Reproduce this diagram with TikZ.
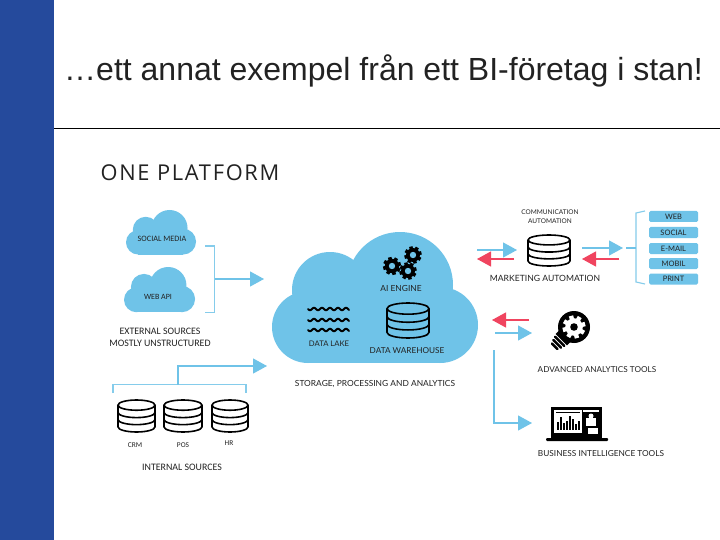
\documentclass[tikz,border=0pt]{standalone}
\usepackage{fontspec}
\setmainfont{Lato}
\newfontfamily\titlefont{Liberation Sans}
\newfontfamily\calfont{Carlito}
\newfontfamily\headfont[LetterSpace=8]{Open Sans}
\usetikzlibrary{arrows.meta}
\definecolor{sidebar}{HTML}{254A9C}
\definecolor{sky}{HTML}{6FC3E8}
\definecolor{rosy}{HTML}{F0445F}
\definecolor{ink}{HTML}{222222}
\newcommand\cloudshape[3]{%
  \begin{scope}[shift={(#1,#2)},scale=#3]
    \fill[sky] (36,95) circle[radius=36];
    \fill[sky] (58,58) circle[radius=38];
    \fill[sky] (128,53) circle[radius=53];
    \fill[sky] (168,93) circle[radius=38];
    \fill[sky] (36,70) rectangle (168,131);
  \end{scope}}
\newcommand\dbicon[5]{% name x y w h
  \begin{scope}[shift={(#2,#3)},x=#4pt,y=#5pt]
    \coordinate (#1) at (.5,.5);
    \draw[black,line width=1.6pt,line join=round]
      (0,-.16) arc[start angle=180,end angle=0,x radius=.5,y radius=.16]
      -- (1,-.84) arc[start angle=0,end angle=-180,x radius=.5,y radius=.16] -- cycle
      (0,-.16) arc[start angle=180,end angle=360,x radius=.5,y radius=.16]
      (0,-.39) arc[start angle=180,end angle=360,x radius=.5,y radius=.16]
      (0,-.61) arc[start angle=180,end angle=360,x radius=.5,y radius=.16];
  \end{scope}}
\newcommand\gearicon[5]{% x y radius inner fill
  \begin{scope}[shift={(#1,#2)}]
    \foreach \a in {0,45,...,315}{
      \fill[black,rotate=\a+15] (-#3*.2,#3*.65) rectangle (#3*.2,#3);
    }
    \fill[black] (0,0) circle[radius=#3*.8];
    \fill[#5] (0,0) circle[radius=#4];
  \end{scope}}
\tikzset{
  x=1pt,y=-1pt,
  feed/.style={sky,line width=1.2pt,-{Triangle[length=14pt,width=15pt]}},
  back/.style={rosy,line width=1.2pt,-{Triangle[length=14pt,width=15pt]}},
  brace/.style={sky!85!white,line width=1.1pt},
  lab/.style={inner sep=0pt,text=ink,font=\fontsize{7.7}{8}\selectfont,align=center},
  cal/.style={inner sep=0pt,text=ink,font=\calfont\fontsize{9.9}{12}\selectfont,align=center},
  channel/.style={fill=sky,rounded corners=1.5pt,minimum width=49pt,minimum height=11pt,inner sep=0pt,
     text=ink,font=\fontsize{7.5}{8}\selectfont},
}
\begin{document}
\begin{tikzpicture}
\useasboundingbox (0,0) rectangle (720,540);
\fill[white] (0,0) rectangle (720,540);
\fill[sidebar] (0,0) rectangle (54,540);
\draw[black,line width=.8pt] (54,128.5) -- (720,128.5);
\node[inner sep=0pt,font=\titlefont\fontsize{32}{36}\selectfont,text=ink] (title) at (383.5,71) {…ett annat exempel från ett BI-företag i stan!};
\node[inner sep=0pt,font=\headfont\fontsize{21.8}{24}\selectfont,text=ink] (head) at (190,173) {ONE PLATFORM};

% clouds
\cloudshape{126}{210}{.34}
\cloudshape{124}{267}{.345}
\cloudshape{272}{232}{1}
\node[lab,font=\calfont\fontsize{8.2}{9}\selectfont] (social) at (162,239) {SOCIAL MEDIA};
\node[lab,font=\calfont\fontsize{8}{9}\selectfont] (webapi) at (158,297) {WEB API};
\node[cal] (external) at (160,337) {EXTERNAL SOURCES\\MOSTLY UNSTRUCTURED};

% external bracket
\coordinate (ea) at (205,246); \coordinate (eb) at (214.5,246);
\coordinate (ec) at (214.5,312.5); \coordinate (ed) at (205,312.5);
\coordinate (em) at (214.5,279); \coordinate (ee) at (264,279);
\draw[brace] (ea) -- (eb) -- (ec) -- (ed);
\draw[feed] (em) -- (ee);

% big cloud contents
\gearicon{392}{266}{9}{3.2}{sky}
\gearicon{413}{255}{8.7}{3.2}{sky}
\gearicon{408}{271}{8.7}{3.2}{sky}
\node[lab,font=\fontsize{8.4}{9}\selectfont] (ai) at (401,288) {AI ENGINE};
\foreach \yy in {309,320,330}{
  \draw[black,line width=2pt,line cap=round] plot[domain=308:349,samples=70] (\x,{\yy+1.2*sin(45*(\x-308))});
}
\node[lab] (lake) at (329,344) {DATA LAKE};
\dbicon{dw}{387}{303}{42}{35}
\node[lab,font=\fontsize{8.2}{9}\selectfont] (dwl) at (407,351) {DATA WAREHOUSE};
\node[lab,font=\fontsize{8.4}{9}\selectfont] (storage) at (375,384) {STORAGE, PROCESSING AND ANALYTICS};

% internal sources
\dbicon{crm}{118}{400}{37}{32}
\dbicon{pos}{164}{400}{38}{32}
\dbicon{hr}{212}{400}{36}{32}
\node[lab,font=\calfont\fontsize{7.4}{8}\selectfont] (crml) at (135,445) {CRM};
\node[lab,font=\calfont\fontsize{7.4}{8}\selectfont] (posl) at (183,445) {POS};
\node[lab,font=\calfont\fontsize{7.4}{8}\selectfont] (hrl) at (229,443) {HR};
\node[cal] (internal) at (182,467) {INTERNAL SOURCES};
\coordinate (ia) at (113,393); \coordinate (ib) at (113,384.5);
\coordinate (ic) at (246,384.5); \coordinate (id) at (246,393);
\coordinate (ie) at (178,384.5); \coordinate (if) at (178,366); \coordinate (ig) at (267,366);
\draw[brace] (ia) -- (ib) -- (ic) -- (id);
\draw[feed] (ie) -- (if) -- (ig);

% marketing automation
\node[lab,font=\fontsize{6.5}{9}\selectfont] (comm) at (550,217) {COMMUNICATION\\AUTOMATION};
\dbicon{ma}{528}{235}{42}{31}
\node[lab,font=\fontsize{8.6}{9}\selectfont] (mal) at (545,278) {MARKETING AUTOMATION};
\coordinate (m1) at (477,250); \coordinate (m2) at (517,250);
\coordinate (m3) at (514,259); \coordinate (m4) at (477,259);
\coordinate (m5) at (582,248); \coordinate (m6) at (623,248);
\coordinate (m7) at (619,259); \coordinate (m8) at (582,259);
\draw[feed] (m1) -- (m2);
\draw[back] (m3) -- (m4);
\draw[feed] (m5) -- (m6);
\draw[back] (m7) -- (m8);
\coordinate (b1) at (645,211); \coordinate (b2) at (636,213);
\coordinate (b3) at (636,282); \coordinate (b4) at (645,284);
\coordinate (b5) at (626,248); \coordinate (b6) at (636,248);
\draw[brace] (b1) -- (b2) -- (b3) -- (b4);
\draw[sky,line width=2.2pt] (b5) -- (b6);
\node[channel] (web) at (673.5,216.5) {WEB};
\node[channel] (soc) at (673.5,232.5) {SOCIAL};
\node[channel] (mail) at (673.5,248.5) {E-MAIL};
\node[channel] (mob) at (673.5,263.5) {MOBIL};
\node[channel] (prt) at (673.5,279) {PRINT};

% analytics
\coordinate (a1) at (529,320); \coordinate (a2) at (492,320);
\coordinate (a3) at (495,333); \coordinate (a4) at (532,333);
\draw[back] (a1) -- (a2);
\draw[feed] (a3) -- (a4);
\begin{scope}[shift={(574,327)}]
  \fill[black] (0,0) circle[radius=16];
  \begin{scope}[rotate=-45]
    \fill[black] (-8,10) rectangle (8,18);
    \foreach \yy/\w in {19/7.5,22.5/6.5,26/5}{
      \fill[black,rounded corners=1pt] (-\w,\yy) rectangle (\w,\yy+2.5);
    }
  \end{scope}
  \foreach \a in {0,45,...,315}{\fill[white,rotate=\a+15] (-2.2,7) rectangle (2.2,11.5);}
  \fill[white] (0,0) circle[radius=8.8];
  \fill[black] (0,0) circle[radius=3.8];
\end{scope}
\node[lab,font=\fontsize{8.2}{9}\selectfont] (aatl) at (597,370) {ADVANCED ANALYTICS TOOLS};

% business intelligence
\coordinate (t1) at (494,350); \coordinate (t2) at (494,423); \coordinate (t3) at (532,423);
\draw[feed] (t1) -- (t2) -- (t3);
\fill[black] (551,407) rectangle (602,438);
\fill[black,rounded corners=1pt] (546,438) rectangle (608,441);
\fill[white] (554,410) rectangle (582,433);
\fill[white] (583,410) rectangle (599,412);
\foreach \bx/\bh in {557/8,560/13,563/7,566/9,569/14,572/11,575/6,578/9}{
  \fill[black] (\bx,430) rectangle (\bx+2,430-\bh);
}
\fill[black] (556,412) rectangle (580,413);
\fill[white] (586,418) rectangle (596,426);
\fill[white] (588,428) rectangle (598,434);
\fill[white] (591,416) circle[radius=2.5];
\fill[white] (593,431) circle[radius=2.5];
\node[lab,font=\fontsize{8.3}{9}\selectfont] (bitl) at (601,454) {BUSINESS INTELLIGENCE TOOLS};
\end{tikzpicture}
\end{document}
